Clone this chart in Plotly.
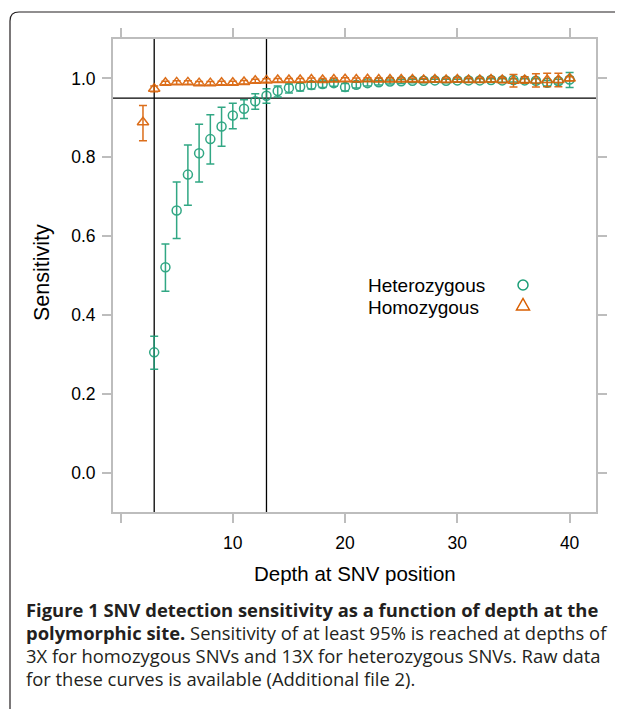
import plotly.graph_objects as go

# ---------------- data ----------------
het_depth = list(range(3, 41))
het_sens = [0.305, 0.521, 0.665, 0.756, 0.810, 0.846, 0.878, 0.906, 0.923, 0.942,
            0.956, 0.968, 0.976, 0.979, 0.983, 0.986, 0.988, 0.978, 0.984, 0.988,
            0.990, 0.992, 0.993, 0.994, 0.994, 0.995, 0.994, 0.995, 0.995, 0.995,
            0.996, 0.995, 0.996, 0.995, 0.994, 0.989, 0.993, 0.997]
het_lo = [0.262, 0.460, 0.594, 0.678, 0.737, 0.783, 0.828, 0.872, 0.898, 0.922,
          0.937, 0.953, 0.963, 0.968, 0.973, 0.977, 0.980, 0.968, 0.976, 0.981,
          0.983, 0.986, 0.987, 0.989, 0.989, 0.990, 0.989, 0.990, 0.990, 0.990,
          0.991, 0.990, 0.991, 0.989, 0.987, 0.981, 0.986, 0.977]
het_hi = [0.346, 0.580, 0.737, 0.831, 0.884, 0.908, 0.927, 0.937, 0.946, 0.961,
          0.974, 0.981, 0.986, 0.988, 0.991, 0.993, 0.994, 0.987, 0.990, 0.993,
          0.995, 0.996, 0.997, 0.998, 0.998, 0.998, 0.998, 0.998, 0.999, 0.999,
          0.999, 0.999, 0.999, 0.999, 0.999, 0.995, 0.998, 1.015]

hom_depth = list(range(2, 41))
hom_sens = [0.889, 0.974, 0.989, 0.990, 0.990, 0.988, 0.988, 0.989, 0.989, 0.991,
            0.994, 0.995, 0.996, 0.996, 0.996, 0.997, 0.996, 0.997, 0.998, 0.997,
            0.998, 0.997, 0.997, 0.997, 0.997, 0.996, 0.997, 0.996, 0.997, 0.996,
            0.996, 0.997, 0.996, 0.994, 0.996, 0.995, 0.996, 0.996, 1.000]
hom_lo = [0.842, 0.966, 0.984, 0.985, 0.985, 0.983, 0.983, 0.984, 0.984, 0.986,
          0.989, 0.990, 0.991, 0.991, 0.991, 0.992, 0.991, 0.992, 0.993, 0.992,
          0.993, 0.992, 0.992, 0.992, 0.992, 0.991, 0.991, 0.990, 0.991, 0.990,
          0.990, 0.990, 0.989, 0.978, 0.988, 0.978, 0.979, 0.979, 0.994]
hom_hi = [0.931, 0.981, 0.993, 0.994, 0.994, 0.992, 0.992, 0.993, 0.993, 0.995,
          0.998, 0.999, 1.000, 1.000, 1.000, 1.001, 1.000, 1.001, 1.002, 1.001,
          1.002, 1.001, 1.001, 1.001, 1.001, 1.000, 1.002, 1.001, 1.002, 1.001,
          1.001, 1.003, 1.002, 1.010, 1.004, 1.012, 1.013, 1.013, 1.004]

x_ticks = [0, 10, 20, 30, 40]
x_ticktext = ["", "10", "20", "30", "40"]
y_ticks = [0.0, 0.2, 0.4, 0.6, 0.8, 1.0]
y_ticktext = ["0.0", "0.2", "0.4", "0.6", "0.8", "1.0"]
vlines = [3, 13]
hline = 0.95

GREEN = "#1b9e77"
ORANGE = "#d95f02"
FRAME = "#bdbdbd"

# ---------------- layout geometry ----------------
# the page body has an 8px margin, so the figure starts at (8, 8) in the window
OFF = 8
W, H = 623 - OFF, 709 - OFF
PL, PR, PT, PB = 113, 596, 39, 512          # plot area in window pixels
ML, MR, MT, MB = PL - OFF, 623 - PR, PT - OFF, 709 - PB
PW, PH = W - ML - MR, H - MT - MB


def px(x):  # window pixel -> paper
    return (x - PL) / PW


def py(y):
    return (PB - y) / PH


fig = go.Figure()

fig.add_trace(go.Scatter(
    x=het_depth, y=het_sens, mode="markers", name="Heterozygous",
    marker=dict(symbol="circle-open", size=9, color=GREEN, line=dict(width=1.5, color=GREEN)),
    error_y=dict(type="data", symmetric=False,
                 array=[h - s for h, s in zip(het_hi, het_sens)],
                 arrayminus=[s - l for s, l in zip(het_sens, het_lo)],
                 color=GREEN, thickness=1.5, width=4),
    opacity=0.9, showlegend=False,
))
fig.add_trace(go.Scatter(
    x=hom_depth, y=hom_sens, mode="markers", name="Homozygous",
    marker=dict(symbol="triangle-up-open", size=10, color=ORANGE, line=dict(width=1.5, color=ORANGE)),
    error_y=dict(type="data", symmetric=False,
                 array=[h - s for h, s in zip(hom_hi, hom_sens)],
                 arrayminus=[s - l for s, l in zip(hom_sens, hom_lo)],
                 color=ORANGE, thickness=1.5, width=4),
    opacity=0.9, showlegend=False,
))

shapes = []
for v in vlines:
    shapes.append(dict(type="line", xref="x", yref="paper", x0=v, x1=v, y0=0, y1=1,
                       line=dict(color="black", width=1.3), layer="below"))
shapes.append(dict(type="line", xref="paper", yref="y", x0=0, x1=1, y0=hline, y1=hline,
                   line=dict(color="black", width=1.3), layer="below"))

# outer figure border with rounded top-left corner
bx, by, r = 10, 12, 9
path = (f"M {px(bx)},{py(720)} L {px(bx)},{py(by + r)} "
        f"Q {px(bx)},{py(by)} {px(bx + r)},{py(by)} L {px(640)},{py(by)}")
shapes.append(dict(type="path", xref="paper", yref="paper", path=path,
                   line=dict(color="#231f20", width=1.2)))

# legend symbols
lx = 523
cy1, cy2 = 285, 305
rr = 5
shapes.append(dict(type="circle", xref="paper", yref="paper",
                   x0=px(lx - rr), x1=px(lx + rr), y0=py(cy1 + rr), y1=py(cy1 - rr),
                   line=dict(color=GREEN, width=1.5)))
tri = (f"M {px(lx - 6.5)},{py(cy2 + 5)} L {px(lx + 6.5)},{py(cy2 + 5)} "
       f"L {px(lx)},{py(cy2 - 6.5)} Z")
shapes.append(dict(type="path", xref="paper", yref="paper", path=tri,
                   line=dict(color=ORANGE, width=1.5)))

FONT = "Liberation Sans, Arial, sans-serif"
annotations = [
    dict(text="Heterozygous", x=px(366), y=py(285.5), xref="paper", yref="paper",
         xanchor="left", yanchor="middle", showarrow=False,
         font=dict(family=FONT, size=19, color="black")),
    dict(text="Homozygous", x=px(366), y=py(307), xref="paper", yref="paper",
         xanchor="left", yanchor="middle", showarrow=False,
         font=dict(family=FONT, size=19, color="black")),
    dict(text="Depth at SNV position", x=px(354.5), y=py(573), xref="paper", yref="paper",
         xanchor="center", yanchor="middle", showarrow=False,
         font=dict(family=FONT, size=20.5, color="black")),
    dict(text="Sensitivity", x=px(42), y=py(273), xref="paper", yref="paper",
         xanchor="center", yanchor="middle", showarrow=False, textangle=-90,
         font=dict(family=FONT, size=21.5, color="black")),
]

CAP_FONT = "Open Sans, Roboto, sans-serif"
cap_lines = [
    "<b>Figure 1 SNV detection sensitivity as a function of depth at the</b>",
    "<b>polymorphic site.</b> Sensitivity of at least 95% is reached at depths of",
    "3X for homozygous SNVs and 13X for heterozygous SNVs. Raw data",
    "for these curves is available (Additional file 2).",
]
cap_y = [609, 632, 655, 678]
for t, yy in zip(cap_lines, cap_y):
    annotations.append(dict(text=t, x=px(24), y=py(yy), xref="paper", yref="paper",
                            xanchor="left", yanchor="middle", showarrow=False,
                            font=dict(family=CAP_FONT, size=18.4, color="#231f20")))

axis_common = dict(showline=True, linecolor=FRAME, linewidth=2, mirror="ticks",
                   ticks="outside", ticklen=9, tickwidth=2, tickcolor=FRAME,
                   showgrid=False, zeroline=False,
                   tickfont=dict(family=FONT, size=17.5, color="black"))

fig.update_layout(
    width=W, height=H,
    margin=dict(l=ML, r=MR, t=MT, b=MB, pad=0),
    paper_bgcolor="white", plot_bgcolor="white",
    xaxis=dict(range=[-0.67, 42.35], tickvals=x_ticks, ticktext=x_ticktext,
               ticklabelstandoff=5, **axis_common),
    yaxis=dict(range=[-0.1, 1.1], tickvals=y_ticks, ticktext=y_ticktext,
               ticklabelstandoff=3, **axis_common),
    shapes=shapes, annotations=annotations, showlegend=False,
)

fig.write_html("out.html")
